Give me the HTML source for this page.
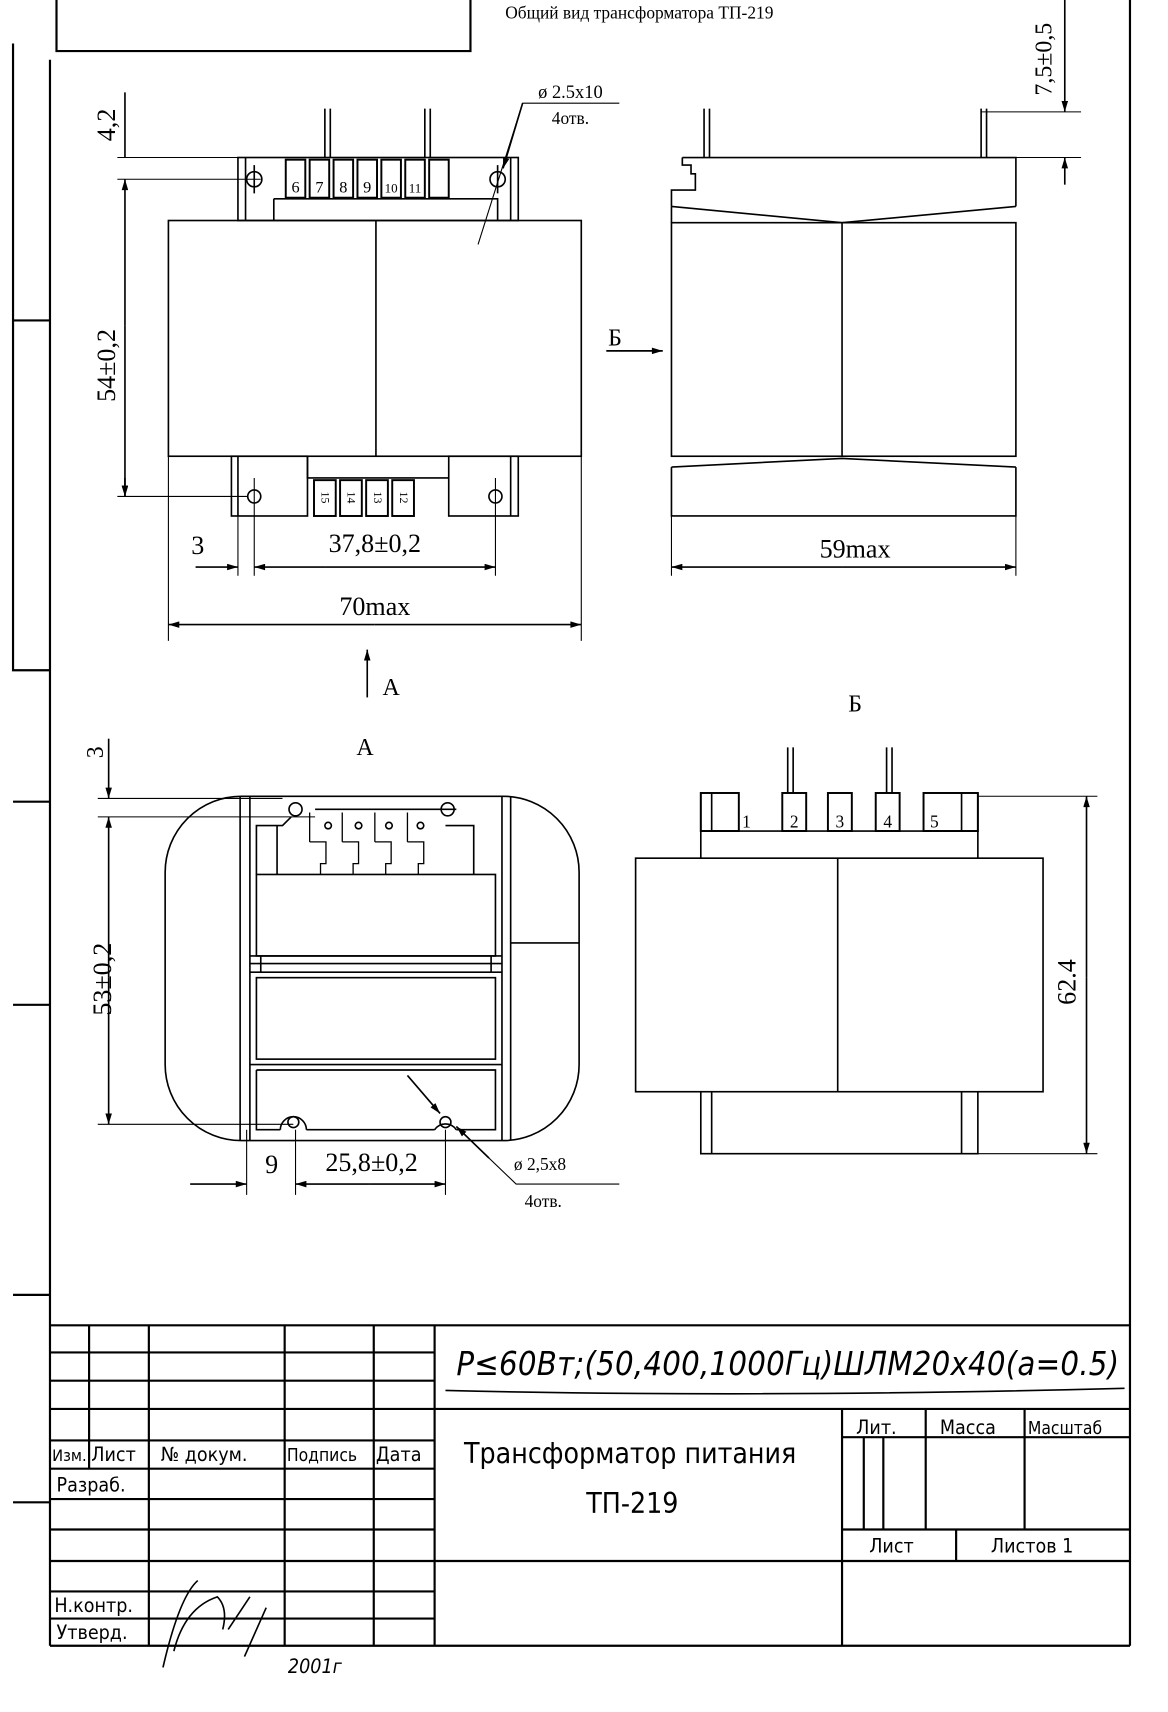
<!DOCTYPE html>
<html><head><meta charset="utf-8"><style>
html,body{margin:0;padding:0;background:#fff}
svg{display:block}
.s{font-family:"Liberation Serif",serif}
.a{font-family:"DejaVu Sans Condensed","DejaVu Sans","Liberation Sans",sans-serif}
</style></head><body>
<svg width="1168" height="1712" viewBox="0 0 1075 1576" preserveAspectRatio="none" xmlns="http://www.w3.org/2000/svg">
<defs>
<marker id="ar" viewBox="0 0 10 6" refX="10" refY="3" markerWidth="14" markerHeight="6" markerUnits="userSpaceOnUse" orient="auto"><path d="M0,0L10,3L0,6z" fill="#000"/></marker>
</defs>
<g stroke="#000" fill="none" stroke-width="1.5">
<path d="M46,55V1515M52,0V47H433V0M12,40V617H46M12,295H46M12,738H46M12,925H46M12,1192H46M12,1383H46M1040,0V1515" stroke-width="2"/>
<rect x="155" y="203" width="380" height="217"/><path d="M346,203V420"/>
<rect x="219" y="145" width="258" height="58"/>
<path d="M226,145V203M470,145V203M252,183H458V203M252,183V203"/>
<g stroke-width="1.8"><rect x="263" y="147" width="18" height="35"/><rect x="285" y="147" width="18" height="35"/><rect x="307" y="147" width="18" height="35"/><rect x="329" y="147" width="18" height="35"/><rect x="351" y="147" width="18" height="35"/><rect x="373" y="147" width="18" height="35"/><rect x="395" y="147" width="18" height="35"/></g>
<path d="M299,100V145M304,100V145M391,100V145M396,100V145"/>
<circle cx="234" cy="165" r="7"/><circle cx="458" cy="165" r="7"/>
<path d="M234,152V178M458,152V178"/>
<rect x="213" y="420" width="70" height="55"/><rect x="413" y="420" width="64" height="55"/>
<path d="M283,420V440H413M219,420V475M470,420V475"/>
<g stroke-width="1.8"><rect x="289" y="442" width="20" height="33"/><rect x="313" y="442" width="20" height="33"/><rect x="337" y="442" width="20" height="33"/><rect x="361" y="442" width="20" height="33"/></g>
<circle cx="234" cy="457" r="6"/><circle cx="456" cy="457" r="6"/>
<path d="M234,440V530M456,440V530" stroke-width="1"/>
<path d="M108,145H219M108,165H240M108,457H228M155,420V590M535,420V590M219,475V530" stroke-width="1"/>
<path d="M115,85V145M115,440V457" marker-end="url(#ar)"/>
<path d="M115,180V165M115,300V165" marker-end="url(#ar)"/>
<path d="M115,300V457" marker-end="url(#ar)"/>
<path d="M180,522H219" marker-end="url(#ar)"/>
<path d="M300,522H234" marker-end="url(#ar)"/>
<path d="M300,522H456" marker-end="url(#ar)"/>
<path d="M345,575H155" marker-end="url(#ar)"/><path d="M345,575H535" marker-end="url(#ar)"/>
<path d="M570,95H481L440,225" stroke-width="1"/>
<path d="M481,95L463,155" marker-end="url(#ar)"/>
<path d="M648,100V145M653,100V145M903,100V145M908,100V145"/>
<path d="M628,145H935V190M628,145V152H636V160H640V175H618V190"/>
<path d="M618,190L775,205L935,190M618,190V205"/>
<rect x="618" y="205" width="317" height="215"/><path d="M775,205V420"/>
<path d="M618,430L775,422L935,430M618,430V475H935V430"/>
<path d="M618,475V530M935,475V530M903,103H995M935,145H995" stroke-width="1"/>
<path d="M980,0V103" marker-end="url(#ar)"/>
<path d="M980,170V145" marker-end="url(#ar)"/>
<path d="M775,522H618" marker-end="url(#ar)"/><path d="M775,522H935" marker-end="url(#ar)"/>
<path d="M558,323H610" marker-end="url(#ar)"/>
<path d="M338,642V598" marker-end="url(#ar)"/>
<rect x="152" y="733" width="381" height="317" rx="70"/>
<path d="M221,733V1050M230,733V1050M462,733V1050M470,733V1050M470,868H533"/>
<rect x="236" y="805" width="220" height="75"/>
<path d="M230,880H462M230,887H462M230,895H462M240,880V895M452,880V895"/>
<rect x="236" y="900" width="220" height="75"/>
<path d="M230,980H462M236,985H456V1040H420M236,985V1040H258M282,1040H400"/>
<path d="M258,1040A12,12 0 0 1 282,1040M400,1040A12,12 0 0 1 420,1040" />
<circle cx="270" cy="1033" r="5"/><circle cx="410" cy="1033" r="5"/>
<path d="M236,805V760H260L268,752M436,805V760H410M290,745H420M255,760V805"/>
<circle cx="272" cy="745" r="6"/><circle cx="412" cy="745" r="6"/>
<path d="M285,748V775M315,748V775M345,748V775M375,748V775M285,775H300V795H295V805M315,775H330V795H325V805M345,775H360V795H355V805M375,775H390V795H385V805" stroke-width="1.2"/>
<circle cx="302" cy="760" r="3"/><circle cx="330" cy="760" r="3"/><circle cx="358" cy="760" r="3"/><circle cx="387" cy="760" r="3"/>
<path d="M90,735H260M90,752H290M90,1035H270M227,1040V1100M272,1040V1100M410,1040V1100" stroke-width="1"/>
<path d="M100,680V735" marker-end="url(#ar)"/>
<path d="M100,900V752" marker-end="url(#ar)"/><path d="M100,900V1035" marker-end="url(#ar)"/>
<path d="M175,1090H227" marker-end="url(#ar)"/>
<path d="M340,1090H272" marker-end="url(#ar)"/><path d="M340,1090H410" marker-end="url(#ar)"/>
<path d="M375,990L405,1025" marker-end="url(#ar)"/>
<path d="M570,1090H475L425,1042" stroke-width="1"/>
<path d="M450,1066L420,1037" marker-end="url(#ar)"/>
<path d="M725,688V730M730,688V730M816,688V730M821,688V730"/>
<path d="M645,730V765H900V730"/>
<g stroke-width="1.8"><rect x="645" y="730" width="35" height="35"/><rect x="720" y="730" width="22" height="35"/><rect x="762" y="730" width="22" height="35"/><rect x="806" y="730" width="22" height="35"/><rect x="850" y="730" width="50" height="35"/></g>
<path d="M655,730V765M885,730V765M645,765V790M900,765V790"/>
<rect x="585" y="790" width="375" height="215"/><path d="M771,790V1005"/>
<path d="M645,1005V1062H900V1005M655,1005V1062M885,1005V1062"/>
<path d="M900,733H1010M900,1062H1010" stroke-width="1"/>
<path d="M1000,900V733" marker-end="url(#ar)"/><path d="M1000,900V1062" marker-end="url(#ar)"/>
<path d="M46,1220H1040M46,1245H400M46,1271H400M46,1297H1040M46,1326H400M46,1352H400M46,1380H400M46,1408H400M46,1437H1040M46,1465H400M46,1490H400M46,1515H1040" stroke-width="2"/>
<path d="M82,1220V1352M137,1220V1515M262,1220V1515M344,1220V1515M400,1220V1515M775,1297V1515M852,1297V1408M943,1297V1408M775,1323H1040M775,1408H1040M880,1408V1437M795,1323V1408M813,1323V1408" stroke-width="2"/>
<path d="M410,1280Q700,1287 1035,1278" stroke-width="1.5"/>
<path d="M150,1535Q165,1470 182,1455M160,1520Q170,1480 200,1470Q210,1480 205,1500M210,1500L230,1470M225,1525L245,1480" stroke-width="1.5"/>
</g>
<g fill="#000">
<text class="s" x="465" y="17" font-size="16">Общий вид трансформатора ТП-219</text>
<text class="s" x="525" y="90" font-size="17" text-anchor="middle">ø 2.5x10</text>
<text class="s" x="525" y="114" font-size="16" text-anchor="middle">4отв.</text>
<g class="s" font-size="15" text-anchor="middle"><text x="272" y="177">6</text><text x="294" y="177">7</text><text x="316" y="177">8</text><text x="338" y="177">9</text><text x="360" y="177" font-size="12">10</text><text x="382" y="177" font-size="12">11</text></g>
<g class="s" font-size="11" text-anchor="middle"><text transform="translate(296,458) rotate(90)">15</text><text transform="translate(320,458) rotate(90)">14</text><text transform="translate(344,458) rotate(90)">13</text><text transform="translate(368,458) rotate(90)">12</text></g>
<text class="s" font-size="24" transform="translate(106,130) rotate(-90)">4,2</text>
<text class="s" font-size="24" transform="translate(106,370) rotate(-90)">54±0,2</text>
<text class="s" font-size="24" x="182" y="510" text-anchor="middle">3</text>
<text class="s" font-size="24" x="345" y="508" text-anchor="middle">37,8±0,2</text>
<text class="s" font-size="24" x="345" y="566" text-anchor="middle">70max</text>
<text class="s" font-size="24" x="787" y="513" text-anchor="middle">59max</text>
<text class="s" font-size="22" transform="translate(968,88) rotate(-90)">7,5±0,5</text>
<text class="s" font-size="22" x="566" y="318" text-anchor="middle">Б</text>
<text class="s" font-size="22" x="360" y="640" text-anchor="middle">А</text>
<text class="s" font-size="22" x="787" y="655" text-anchor="middle">Б</text>
<text class="s" font-size="22" x="336" y="695" text-anchor="middle">А</text>
<text class="s" font-size="22" transform="translate(95,698) rotate(-90)">3</text>
<text class="s" font-size="24" transform="translate(102,935) rotate(-90)">53±0,2</text>
<text class="s" font-size="24" x="250" y="1080" text-anchor="middle">9</text>
<text class="s" font-size="24" x="342" y="1078" text-anchor="middle">25,8±0,2</text>
<text class="s" font-size="16" x="497" y="1077" text-anchor="middle">ø 2,5x8</text>
<text class="s" font-size="16" x="500" y="1111" text-anchor="middle">4отв.</text>
<g class="s" font-size="16" text-anchor="middle"><text x="687" y="762">1</text><text x="731" y="762">2</text><text x="773" y="762">3</text><text x="817" y="762">4</text><text x="860" y="762">5</text></g>
<text class="s" font-size="24" transform="translate(990,925) rotate(-90)">62.4</text>
<g class="a" font-size="18"><text x="48" y="1345" font-size="15">Изм.</text><text x="84" y="1345">Лист</text><text x="148" y="1345">№ докум.</text><text x="264" y="1345" font-size="16">Подпись</text><text x="346" y="1345">Дата</text><text x="52" y="1373">Разраб.</text><text x="50" y="1484">Н.контр.</text><text x="52" y="1509">Утверд.</text>
<text x="788" y="1320">Лит.</text><text x="865" y="1320">Масса</text><text x="946" y="1320" font-size="16">Масштаб</text><text x="800" y="1429">Лист</text><text x="912" y="1429">Листов 1</text></g>
<text class="a" font-size="26" x="580" y="1347" text-anchor="middle">Трансформатор питания</text>
<text class="a" font-size="26" x="582" y="1393" text-anchor="middle">ТП-219</text>
<text class="a" font-size="30" x="420" y="1266" font-style="italic" textLength="610">P≤60Вт;(50,400,1000Гц)ШЛМ20x40(a=0.5)</text>
<text class="a" font-size="18" x="265" y="1540" font-style="italic">2001г</text>
</g>
</svg>
</body></html>
